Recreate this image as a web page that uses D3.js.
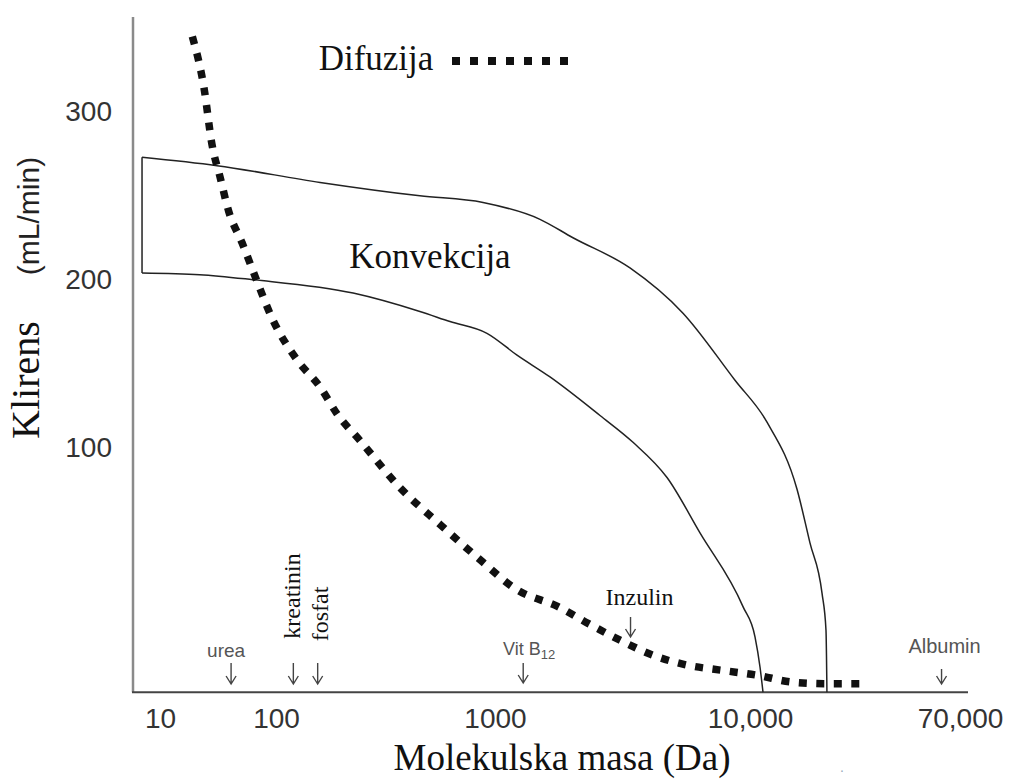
<!DOCTYPE html>
<html>
<head>
<meta charset="utf-8">
<script src="https://cdn.jsdelivr.net/npm/d3@7"></script>
<style>
  html, body { margin: 0; padding: 0; background: #fff; }
  svg { display: block; }
</style>
</head>
<body>
<svg id="chart"></svg>
<script>
// Molecular mass (Da) ticks and clearance (mL/min) ticks
const xTicks = [10, 100, 1000, 10000, 70000];
const xTickLabels = ["10", "100", "1000", "10,000", "70,000"];
const yTicks = [100, 200, 300];

// Diffusion curve (dotted)
const diffMass = [19, 24, 28, 33, 39, 51, 66, 94, 125, 159, 190, 242, 368, 561, 854,
  1220, 1766, 2316, 3093, 4165, 5713, 7766, 10770, 14757, 20600, 28500];
const diffClear = [345, 314, 281, 261, 241, 222, 202, 176, 152, 136, 120, 104, 76, 54, 33,
  15, 5, -5, -15, -24, -30, -33, -36, -40, -41, -41];

// Convection band - upper edge
const convUpMass = [7, 31, 159, 454, 882, 1501, 2022, 3383, 5461, 8733, 11706, 15460, 17430, 19490, 20220, 20400];
const convUpClear = [273, 268, 258, 250, 246, 236, 225, 207, 180, 140, 115, 75, 43, 13, -9, -46];

// Convection band - lower edge
const convLoMass = [7, 22, 63, 225, 454, 623, 919, 1220, 1643, 2581, 3477, 4727, 6366, 9387, 10474, 10971, 11280];
const convLoClear = [204, 203, 200, 192, 181, 175, 168, 155, 142, 119, 103, 82, 49, 5, -13, -31, -46];

// Marked solutes on the mass axis
const soluteNames = ["urea", "kreatinin", "fosfat", "Vit B", "Inzulin", "Albumin"];
const soluteMass = [41, 120, 155, 1290, 3400, 59000];

const width = 1020, height = 780;
const svg = d3.select("#chart").attr("width", width).attr("height", height);

const x = d3.scaleLog().domain(xTicks).range([160, 276, 495, 750, 960]);
const y = d3.scaleLinear().domain([0, 300]).range([615, 112]);
const yBottom = -46;

const serif = "'Liberation Serif', 'Times New Roman', serif";
const sans = "'Liberation Sans', Arial, sans-serif";

// axis lines
svg.append("line")
  .attr("x1", 133).attr("x2", 133).attr("y1", 17).attr("y2", y(yBottom))
  .attr("stroke", "#8a8a8a").attr("stroke-width", 2.5);
svg.append("line")
  .attr("x1", 132).attr("x2", 968).attr("y1", y(yBottom)).attr("y2", y(yBottom))
  .attr("stroke", "#444").attr("stroke-width", 2);

// y tick labels
const yAxis = svg.append("g")
  .attr("transform", "translate(133,0)")
  .call(d3.axisLeft(y).tickValues(yTicks).tickSize(0).tickPadding(21));
yAxis.select(".domain").remove();
yAxis.selectAll("text")
  .attr("font-family", sans).attr("font-size", 28).attr("fill", "#333");

// x tick labels
const xAxis = svg.append("g")
  .attr("transform", `translate(0,${y(yBottom)})`)
  .call(d3.axisBottom(x).tickValues(xTicks).tickSize(0).tickPadding(16)
    .tickFormat((d, i) => xTickLabels[i]));
xAxis.select(".domain").remove();
xAxis.selectAll("text")
  .attr("font-family", sans).attr("font-size", 28).attr("fill", "#333");

// convection band
const line = d3.line()
  .x(d => x(d[0]))
  .y(d => y(d[1]))
  .curve(d3.curveMonotoneX);

const up = convUpMass.map((m, i) => [m, convUpClear[i]]);
const lo = convLoMass.map((m, i) => [m, convLoClear[i]]);

svg.append("path").datum(up).attr("d", line)
  .attr("fill", "none").attr("stroke", "#222").attr("stroke-width", 1.5);
svg.append("path").datum(lo).attr("d", line)
  .attr("fill", "none").attr("stroke", "#222").attr("stroke-width", 1.5);
svg.append("path").datum([up[0], lo[0]]).attr("d", d3.line().x(d => x(d[0])).y(d => y(d[1])))
  .attr("fill", "none").attr("stroke", "#222").attr("stroke-width", 1.5);

// diffusion curve
const diff = diffMass.map((m, i) => [m, diffClear[i]]);
svg.append("path").datum(diff).attr("d", line)
  .attr("fill", "none").attr("stroke", "#111")
  .attr("stroke-width", 7.5).attr("stroke-dasharray", "8 9.5");

// legend for diffusion
svg.append("text")
  .attr("x", 376).attr("y", 70).attr("text-anchor", "middle")
  .attr("font-family", serif).attr("font-size", 35).attr("fill", "#111")
  .text("Difuzija");
svg.append("line")
  .attr("x1", 452).attr("x2", 570).attr("y1", 61).attr("y2", 61)
  .attr("stroke", "#111").attr("stroke-width", 8).attr("stroke-dasharray", "8 10");

svg.append("text")
  .attr("x", 430).attr("y", 268).attr("text-anchor", "middle")
  .attr("font-family", serif).attr("font-size", 35).attr("fill", "#111")
  .text("Konvekcija");

// axis titles
svg.append("text")
  .attr("transform", "translate(39,380) rotate(-90)")
  .attr("text-anchor", "middle")
  .attr("font-family", serif).attr("font-size", 40).attr("fill", "#111")
  .text("Klirens");
svg.append("text")
  .attr("transform", "translate(39,216) rotate(-90)")
  .attr("text-anchor", "middle")
  .attr("font-family", sans).attr("font-size", 30).attr("fill", "#222")
  .text("(mL/min)");

svg.append("text")
  .attr("x", 562).attr("y", 770).attr("text-anchor", "middle")
  .attr("font-family", serif).attr("font-size", 37).attr("fill", "#111")
  .text("Molekulska masa (Da)");
svg.append("text")
  .attr("x", 840).attr("y", 772).attr("font-family", sans).attr("font-size", 14)
  .attr("fill", "#9ab").text(".");

// solute markers: label style and arrow layout
const markerStyle = {
  "urea":      { top: 663, bot: 684, lx: -5, ly: 657, rot: false, font: sans, size: 19, color: "#555" },
  "kreatinin": { top: 663, bot: 684, lx: 7, ly: 596, rot: true, font: serif, size: 24, color: "#111" },
  "fosfat":    { top: 663, bot: 684, lx: 10, ly: 614, rot: true, font: serif, size: 24, color: "#111" },
  "Vit B":     { top: 663, bot: 683, lx: 6, ly: 655, rot: false, font: sans, size: 18, color: "#555" },
  "Inzulin":   { top: 617, bot: 637, lx: 9, ly: 605, rot: false, font: serif, size: 24, color: "#111" },
  "Albumin":   { top: 669, bot: 684, lx: 3, ly: 653, rot: false, font: sans, size: 20, color: "#555" }
};

const markers = svg.append("g").selectAll("g")
  .data(soluteNames.map((n, i) => ({ name: n, mass: soluteMass[i] })))
  .join("g");

markers.append("path")
  .attr("d", d => {
    const s = markerStyle[d.name], cx = x(d.mass);
    return `M${cx},${s.top}V${s.bot}M${cx - 5},${s.bot - 8}L${cx},${s.bot}L${cx + 5},${s.bot - 8}`;
  })
  .attr("fill", "none").attr("stroke", "#444").attr("stroke-width", 1.4);

markers.each(function(d) {
  const s = markerStyle[d.name], cx = x(d.mass);
  const t = d3.select(this).append("text")
    .attr("font-family", s.font).attr("font-size", s.size).attr("fill", s.color)
    .attr("text-anchor", "middle");
  if (s.rot) {
    t.attr("transform", `translate(${cx + s.lx},${s.ly}) rotate(-90)`).text(d.name);
  } else {
    t.attr("x", cx + s.lx).attr("y", s.ly).text(d.name);
    if (d.name === "Vit B") {
      t.append("tspan").attr("font-size", 13).attr("dy", 4).text("12");
    }
  }
});
</script>
</body>
</html>
